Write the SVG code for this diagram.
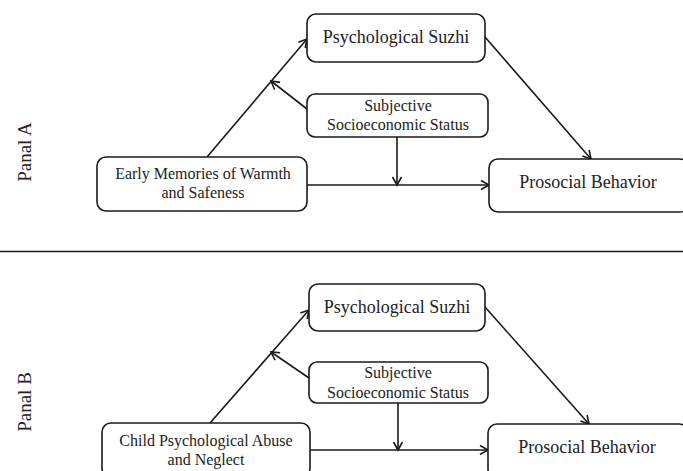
<svg xmlns="http://www.w3.org/2000/svg" width="683" height="471" viewBox="0 0 683 471">
<style>
.box{fill:#fff;stroke:#1a1a1a;stroke-width:1.6}
.t{font-family:"Liberation Serif","Times New Roman",serif;fill:#222;text-anchor:middle}
.t18{font-size:18px}
.t16{font-size:16px}
.lbl{font-size:19px}
.c{stroke:#1a1a1a;stroke-width:1.6;fill:none}
</style>
<defs>
<marker id="ah" markerUnits="userSpaceOnUse" markerWidth="12" markerHeight="12" refX="10" refY="6" orient="auto">
<path d="M2,1.5 L10,6 L2,10.5" fill="none" stroke="#1a1a1a" stroke-width="1.6"/>
</marker>
</defs>
<rect width="683" height="471" fill="#fff"/>
<text class="t lbl" transform="translate(31,152) rotate(-90)">Panal A</text>
<text class="t lbl" transform="translate(31,402) rotate(-90)">Panal B</text>
<line x1="0" y1="251.5" x2="683" y2="251.5" stroke="#1a1a1a" stroke-width="1.6"/>
<g id="connectors">
<line class="c" x1="207" y1="157" x2="307" y2="39" marker-end="url(#ah)"/>
<line class="c" x1="307" y1="109" x2="271" y2="81" marker-end="url(#ah)"/>
<line class="c" x1="485" y1="37" x2="591" y2="159" marker-end="url(#ah)"/>
<line class="c" x1="307" y1="185" x2="489" y2="185" marker-end="url(#ah)"/>
<line class="c" x1="397" y1="137" x2="397" y2="185" marker-end="url(#ah)"/>
<line class="c" x1="210" y1="423" x2="309" y2="310" marker-end="url(#ah)"/>
<line class="c" x1="309" y1="378" x2="271" y2="352" marker-end="url(#ah)"/>
<line class="c" x1="485" y1="307" x2="589" y2="424" marker-end="url(#ah)"/>
<line class="c" x1="310" y1="450" x2="488" y2="450" marker-end="url(#ah)"/>
<line class="c" x1="398" y1="403" x2="398" y2="450" marker-end="url(#ah)"/>
</g>
<g id="a-suzhi"><rect class="box" x="307" y="14" width="178" height="48" rx="9"/><text class="t t18" x="396" y="43">Psychological Suzhi</text></g>
<g id="a-sss"><rect class="box" x="307" y="94" width="181" height="43" rx="8"/><text class="t t16" x="398" y="111">Subjective</text><text class="t t16" x="398" y="130">Socioeconomic Status</text></g>
<g id="a-early"><rect class="box" x="97" y="157" width="210" height="54" rx="9"/><text class="t t16" x="203" y="179">Early Memories of Warmth</text><text class="t t16" x="203" y="198">and Safeness</text></g>
<g id="a-prosocial"><rect class="box" x="489" y="159" width="200" height="53" rx="9"/><text class="t t18" x="588" y="188">Prosocial Behavior</text></g>
<g id="b-suzhi"><rect class="box" x="309" y="284" width="176" height="47" rx="9"/><text class="t t18" x="397" y="313">Psychological Suzhi</text></g>
<g id="b-sss"><rect class="box" x="309" y="362" width="179" height="41" rx="8"/><text class="t t16" x="398" y="378">Subjective</text><text class="t t16" x="398" y="398">Socioeconomic Status</text></g>
<g id="b-child"><rect class="box" x="102" y="423" width="208" height="54" rx="9"/><text class="t t16" x="206" y="446">Child Psychological Abuse</text><text class="t t16" x="206" y="465">and Neglect</text></g>
<g id="b-prosocial"><rect class="box" x="488" y="424" width="200" height="54" rx="9"/><text class="t t18" x="587" y="453">Prosocial Behavior</text></g>
</svg>
